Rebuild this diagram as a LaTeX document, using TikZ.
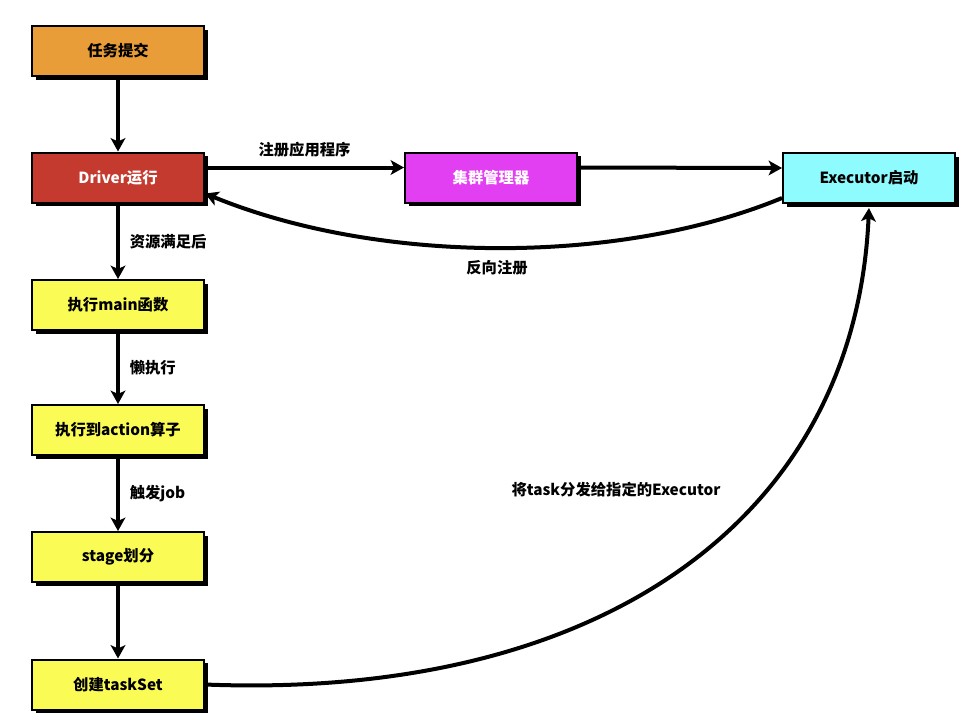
\documentclass[tikz,border=0pt]{standalone}
\usepackage{fontspec}
\setmainfont{Noto Sans CJK SC}
\usetikzlibrary{arrows.meta,shadows}
\definecolor{submitorange}{HTML}{E99D38}
\definecolor{driverred}{HTML}{C53A2E}
\definecolor{clustermagenta}{HTML}{E23EF2}
\definecolor{executorcyan}{HTML}{8EFBFF}
\definecolor{stepyellow}{HTML}{FBFB55}

\begin{document}
\begin{tikzpicture}[x=0.75pt,y=-0.75pt,
  box/.style={draw=black,line width=1.5pt,minimum width=129pt,minimum height=37.5pt,
    font=\bfseries\fontsize{11.5}{13}\selectfont,
    drop shadow={shadow xshift=2.8pt,shadow yshift=-2.8pt,fill=black,opacity=1}},
  flow/.style={line width=3pt,-{Stealth[length=10pt,width=11pt,inset=2.5pt]}},
  lbl/.style={font=\bfseries\fontsize{11.5}{13}\selectfont}]
%
\useasboundingbox[fill=white] (0,0) rectangle (964,719);
%
%''''''''''''''''''''''''''''left column''''''''''''''''''''''''''''
\def\colx{118}
\node[box,fill=submitorange] (submit) at (\colx,51) {任务提交};
\node[box,fill=driverred,text=white] (driver) at (\colx,177.5) {Driver运行};
\node[box,fill=stepyellow] (mainfn) at (\colx,305) {执行main函数};
\node[box,fill=stepyellow] (action) at (\colx,430) {执行到action算子};
\node[box,fill=stepyellow] (stage) at (\colx,557) {stage划分};
\node[box,fill=stepyellow] (taskset) at (\colx,684.5) {创建taskSet};
%
% cluster side
\node[box,fill=clustermagenta,text=white] (cluster) at (491,177.5) {集群管理器};
\node[box,fill=executorcyan] (executor) at (869,178) {Executor启动};
%
% vertical flow
\draw[flow] (submit) -- (driver);
\draw[flow] (driver) -- (mainfn) node[midway,right=4pt,lbl]{资源满足后};
\draw[flow] (mainfn) -- (action) node[midway,right=4pt,lbl]{懒执行};
\draw[flow] (action) -- (stage) node[midway,right=4pt,lbl]{触发job};
\draw[flow] (stage) -- (taskset);
%
% registration
\draw[flow] ([yshift=7.5pt]driver.east) -- ([yshift=7.5pt]cluster.west)
  node[pos=0.5,above=3pt,lbl]{注册应用程序};
\draw[flow] ([yshift=7.5pt]cluster.east) -- ([yshift=7.5pt]executor.west);
\draw[flow] ([yshift=-15pt]executor.west) .. controls (620,265) and (380,265) .. ([yshift=-12pt]driver.east);
\node[lbl] (backlbl) at (497,268) {反向注册};
%
% dispatch tasks
\draw[flow] (taskset.east) .. controls (600,700) and (855,520) .. ([yshift=-3pt]executor.south);
\node[lbl] (tasklbl) at (616,490) {将task分发给指定的Executor};
%
\end{tikzpicture}
\end{document}
